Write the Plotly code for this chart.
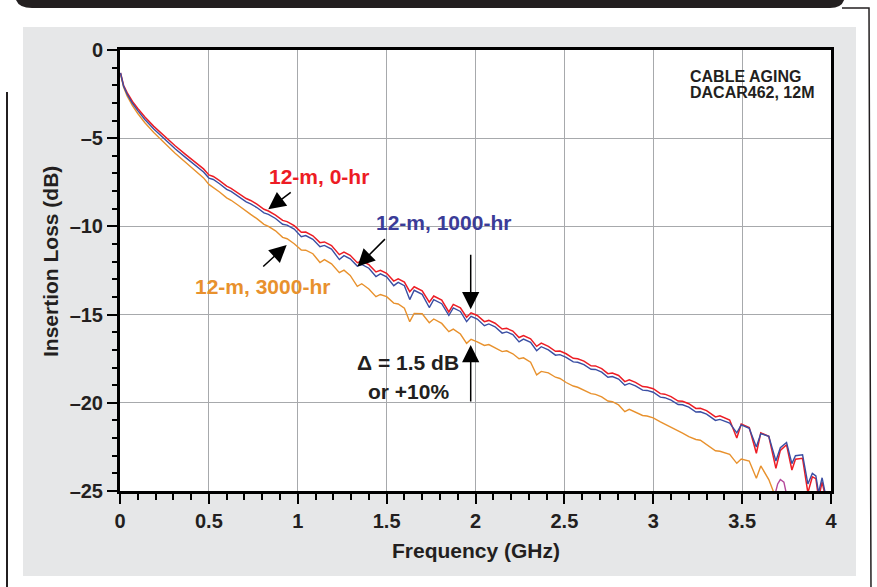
import plotly.graph_objects as go

# ---------------- data ----------------
FREQ_GHZ = [
    0.003, 0.02, 0.04, 0.07, 0.10, 0.14, 0.19, 0.25, 0.31, 0.37, 0.43, 0.47,
    0.50, 0.525, 0.56,
    0.60, 0.625, 0.665,
    0.71, 0.735, 0.77,
    0.81, 0.835, 0.875,
    0.915, 0.94, 0.98,
    1.02, 1.045, 1.085,
    1.125, 1.15, 1.19,
    1.234, 1.26, 1.295,
    1.335, 1.36, 1.40,
    1.44, 1.465, 1.50,
    1.54, 1.565, 1.60,
    1.63, 1.655, 1.70,
    1.74, 1.765, 1.81,
    1.85, 1.875, 1.915,
    1.95, 1.975, 2.01,
    2.05, 2.075, 2.11,
    2.15, 2.175, 2.21,
    2.245, 2.27, 2.31,
    2.344, 2.37, 2.41,
    2.45, 2.475, 2.51,
    2.55, 2.575, 2.61,
    2.65, 2.675, 2.71,
    2.745, 2.77, 2.805,
    2.84, 2.865, 2.90,
    2.94, 2.965, 3.00,
    3.04, 3.065, 3.10,
    3.14, 3.165, 3.20,
    3.24, 3.265, 3.30,
    3.35, 3.375, 3.43,
    3.47, 3.495, 3.54,
    3.58, 3.605, 3.65,
    3.69, 3.715, 3.75,
    3.78, 3.80, 3.84,
    3.87, 3.895, 3.915,
    3.93, 3.95, 3.975,
]

IL_0HR = [
    -1.30, -2.00, -2.42, -2.92, -3.32, -3.80, -4.33, -4.90, -5.43, -5.93, -6.42, -6.74,
    -7.08, -7.17, -7.41,
    -7.72, -7.84, -8.10,
    -8.42, -8.53, -8.74,
    -9.03, -9.13, -9.36,
    -9.66, -9.73, -9.96,
    -10.33, -10.32, -10.53,
    -10.92, -10.88, -11.09,
    -11.60, -11.46, -11.64,
    -12.06, -11.97, -12.17,
    -12.58, -12.49, -12.66,
    -13.10, -12.97, -13.16,
    -13.70, -13.42, -13.65,
    -14.30, -13.95, -14.18,
    -14.85, -14.42, -14.62,
    -15.15, -14.90, -15.05,
    -15.40, -15.33, -15.49,
    -15.82, -15.78, -15.93,
    -16.30, -16.19, -16.37,
    -16.80, -16.62, -16.80,
    -17.08, -17.07, -17.22,
    -17.48, -17.50, -17.64,
    -17.90, -17.91, -18.06,
    -18.35, -18.31, -18.45,
    -18.80, -18.70, -18.84,
    -19.08, -19.10, -19.20,
    -19.48, -19.51, -19.65,
    -19.90, -19.91, -20.05,
    -20.32, -20.31, -20.44,
    -20.80, -20.74, -20.98,
    -22.00, -21.20, -21.40,
    -22.86, -21.70, -21.90,
    -23.72, -22.70, -22.38,
    -23.81, -23.20, -23.15,
    -25.10, -24.20, -24.30,
    -25.40, -24.50, -25.60,
]

IL_1000HR = [
    -1.30, -2.05, -2.50, -3.02, -3.44, -3.94, -4.48, -5.06, -5.60, -6.10, -6.60, -6.92,
    -7.26, -7.34, -7.58,
    -7.90, -8.02, -8.28,
    -8.61, -8.72, -8.93,
    -9.23, -9.32, -9.55,
    -9.88, -9.93, -10.15,
    -10.58, -10.52, -10.73,
    -11.15, -11.08, -11.29,
    -11.88, -11.66, -11.84,
    -12.25, -12.16, -12.37,
    -12.84, -12.69, -12.86,
    -13.36, -13.17, -13.36,
    -14.15, -13.62, -13.85,
    -14.60, -14.15, -14.38,
    -15.05, -14.62, -14.82,
    -15.40, -15.10, -15.25,
    -15.63, -15.53, -15.69,
    -16.05, -15.98, -16.13,
    -16.55, -16.39, -16.57,
    -17.05, -16.82, -17.00,
    -17.30, -17.27, -17.42,
    -17.68, -17.70, -17.84,
    -18.10, -18.11, -18.26,
    -18.55, -18.51, -18.65,
    -19.00, -18.90, -19.04,
    -19.28, -19.30, -19.40,
    -19.68, -19.71, -19.85,
    -20.10, -20.11, -20.25,
    -20.52, -20.51, -20.64,
    -21.00, -20.94, -21.15,
    -21.70, -21.25, -21.45,
    -22.50, -21.75, -21.90,
    -23.30, -22.55, -22.25,
    -23.45, -23.00, -22.95,
    -24.60, -24.00, -24.15,
    -25.10, -24.25, -25.50,
]

IL_3000HR = [
    -1.35, -2.10, -2.60, -3.15, -3.60, -4.12, -4.68, -5.28, -5.85, -6.38, -6.90, -7.25,
    -7.62, -7.78, -8.05,
    -8.38, -8.52, -8.80,
    -9.16, -9.32, -9.56,
    -9.88, -10.00, -10.25,
    -10.62, -10.70, -10.98,
    -11.34, -11.35, -11.55,
    -12.05, -11.88, -12.12,
    -12.62, -12.48, -12.78,
    -13.40, -13.25, -13.55,
    -13.98, -13.86, -13.98,
    -14.35, -14.40, -14.64,
    -15.40, -14.93, -14.95,
    -15.46, -15.25, -15.50,
    -15.97, -15.82, -16.10,
    -16.63, -16.40, -16.55,
    -16.75, -16.70, -16.88,
    -17.10, -17.05, -17.22,
    -17.50, -17.45, -17.70,
    -18.42, -18.22, -18.30,
    -18.55, -18.62, -18.85,
    -19.05, -19.12, -19.28,
    -19.48, -19.52, -19.66,
    -19.90, -19.94, -20.12,
    -20.50, -20.37, -20.52,
    -20.72, -20.75, -20.85,
    -21.08, -21.20, -21.38,
    -21.60, -21.72, -21.92,
    -22.08, -22.12, -22.38,
    -22.72, -22.75, -22.92,
    -23.43, -23.19, -23.30,
    -24.28, -23.58, -24.35,
    -25.40, -26.00, None,
    None, None, None,
    None, None, None,
    None, None, None,
]

# small extra trace visible only at the bottom edge near 3.7 GHz
EXTRA_FREQ = [3.685, 3.70, 3.715, 3.735, 3.75]
EXTRA_IL = [-25.20, -24.60, -24.35, -24.50, -25.20]

X_TICKS = [0, 0.5, 1, 1.5, 2, 2.5, 3, 3.5, 4]
X_TICK_TEXT = ["0", "0.5", "1", "1.5", "2", "2.5", "3", "3.5", "4"]
Y_TICKS = [0, -5, -10, -15, -20, -25]
Y_TICK_TEXT = ["0", "\u20135", "\u201310", "\u201315", "\u201320", "\u201325"]

# ---------------- style ----------------
W, H = 877, 587
L, R, T, B = 120, 46, 50, 96
PW, PH = W - L - R, H - T - B
FONT = "Liberation Sans, Arial, Helvetica, sans-serif"
INK = "#231F20"
RED = "#ED1C24"
BLUE = "#3A4EA3"
BLUE_TXT = "#3B3C98"
ORANGE = "#E8912D"
MAGENTA = "#B4489B"
GRID = "#A7A9AC"
PANEL = "#E6E7E8"


def px(xp):
    return (xp - L) / PW


def py(yp):
    return (H - B - yp) / PH


fig = go.Figure()
fig.add_trace(go.Scatter(x=FREQ_GHZ, y=IL_3000HR, mode="lines",
                         line=dict(color=ORANGE, width=1.4), name="12-m, 3000-hr"))
fig.add_trace(go.Scatter(x=EXTRA_FREQ, y=EXTRA_IL, mode="lines",
                         line=dict(color=MAGENTA, width=1.4), name="extra"))
fig.add_trace(go.Scatter(x=FREQ_GHZ, y=IL_0HR, mode="lines",
                         line=dict(color=RED, width=1.5), name="12-m, 0-hr"))
fig.add_trace(go.Scatter(x=FREQ_GHZ, y=IL_1000HR, mode="lines",
                         line=dict(color=BLUE, width=1.4), name="12-m, 1000-hr"))

shapes = [
    # grey panel
    dict(type="rect", xref="paper", yref="paper", layer="below",
         x0=px(23), x1=px(856), y0=py(576), y1=py(27),
         fillcolor=PANEL, line=dict(width=0)),
    # white plot area
    dict(type="rect", xref="paper", yref="paper", layer="below",
         x0=0, x1=1, y0=0, y1=1, fillcolor="white", line=dict(width=0)),
    # dark header bar
    dict(type="path", xref="paper", yref="paper", layer="above",
         path=(f"M{px(15)},{py(-6)} Q{px(15)},{py(8)} {px(32)},{py(8)} "
               f"L{px(830)},{py(8)} Q{px(845)},{py(8)} {px(845)},{py(-6)} Z"),
         fillcolor=INK, line=dict(width=0)),
    # thin frame lines
    dict(type="line", xref="paper", yref="paper", x0=px(7), x1=px(7),
         y0=py(92), y1=py(590), line=dict(color=INK, width=2)),
    dict(type="path", xref="paper", yref="paper",
         path=f"M{px(842)},{py(8)} L{px(869)},{py(8)} L{px(871)},{py(590)}",
         line=dict(color=INK, width=1.5)),
]


def white_box(x0, x1, y0, y1):
    return dict(type="rect", xref="paper", yref="paper", layer="between",
                x0=px(x0), x1=px(x1), y0=py(y1), y1=py(y0),
                fillcolor="white", line=dict(width=0))


shapes += [
    white_box(262, 376, 162, 190),
    white_box(368, 518, 182, 236),
    white_box(186, 342, 272, 296),
    white_box(348, 480, 338, 405),
]

ann = []


def label(text, xp, yp, color, size=21, xanchor="center"):
    ann.append(dict(text=text, xref="paper", yref="paper", x=px(xp), y=py(yp),
                    xanchor=xanchor, yanchor="middle", showarrow=False,
                    font=dict(family=FONT, size=size, color=color, weight="bold")))


label("12-m, 0-hr", 319, 176, RED)
label("12-m, 1000-hr", 443, 223, BLUE_TXT)
label("12-m, 3000-hr", 262, 286, ORANGE)
label("\u0394 = 1.5 dB", 408, 362, INK)
label("or +10%", 408, 391, INK)
label("CABLE AGING", 688, 76, INK, size=16, xanchor="left")
label("DACAR462, 12M", 688, 92, INK, size=16, xanchor="left")
label("Frequency (GHz)", 476, 550, INK, size=21)
ann.append(dict(text="Insertion Loss (dB)", xref="paper", yref="paper",
                x=px(50), y=py(262), xanchor="center", yanchor="middle",
                textangle=-90, showarrow=False,
                font=dict(family=FONT, size=21, color=INK, weight="bold")))


def arrow(x, y, ax, ay):
    ann.append(dict(text="", x=x, y=y, xref="x", yref="y", ax=ax, ay=ay,
                    axref="pixel", ayref="pixel", showarrow=True,
                    arrowhead=2, arrowsize=2.3, arrowwidth=1.5, arrowcolor="black",
                    standoff=0))


arrow(0.834, -9.03, 24, -18)
arrow(1.336, -12.28, 29, -29)
arrow(0.938, -11.05, -25, 23)
arrow(1.973, -14.70, 0, -56)
arrow(1.973, -16.72, 0, 58)

axis_common = dict(showline=True, linecolor="black", linewidth=3, mirror=True,
                   ticks="outside", ticklen=10, tickwidth=2, tickcolor="black",
                   showgrid=True, gridcolor=GRID, gridwidth=1.3, zeroline=False,
                   tickfont=dict(family=FONT, size=20, color=INK, weight="bold"))

fig.update_layout(
    width=W, height=H,
    margin=dict(l=L, r=R, t=T, b=B),
    paper_bgcolor="white", plot_bgcolor="white",
    showlegend=False,
    shapes=shapes,
    annotations=ann,
    xaxis=dict(range=[0, 4], tickmode="array", tickvals=X_TICKS, ticktext=X_TICK_TEXT,
               minor=dict(tickmode="linear", tick0=0, dtick=0.1, ticks="outside",
                          ticklen=6, tickwidth=2, tickcolor="black", showgrid=False),
               **axis_common),
    yaxis=dict(range=[-25, 0], tickmode="array", tickvals=Y_TICKS, ticktext=Y_TICK_TEXT,
               minor=dict(tickmode="linear", tick0=0, dtick=1, ticks="outside",
                          ticklen=5, tickwidth=2, tickcolor="black", showgrid=False),
               **axis_common),
)

fig.write_html("out.html")
